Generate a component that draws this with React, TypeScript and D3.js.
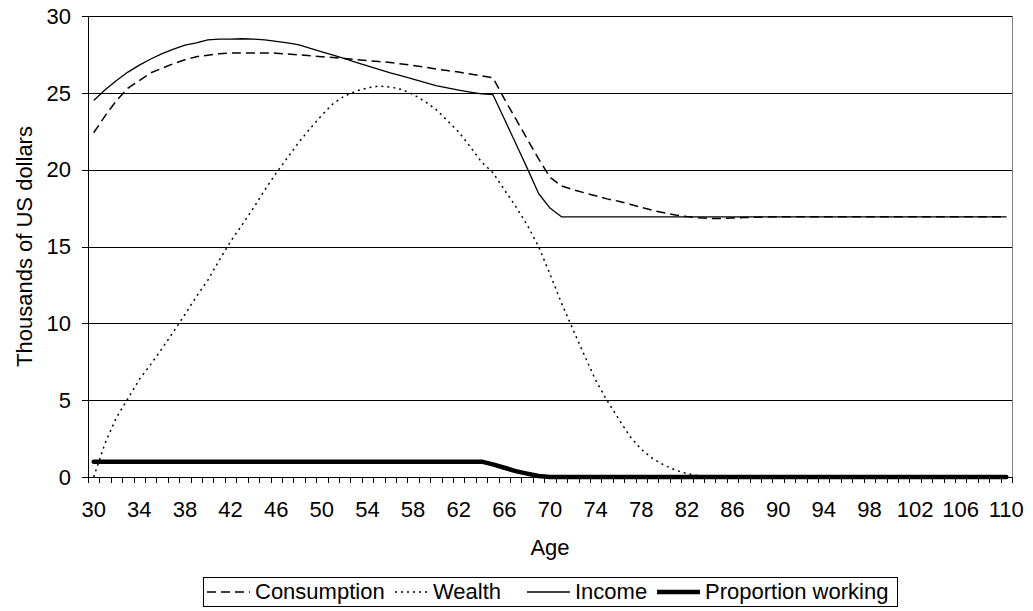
import React from "react";
import * as d3 from "d3";

const ages: number[] = d3.range(30, 111);
const xTickLabels: number[] = [30, 34, 38, 42, 46, 50, 54, 58, 62, 66, 70, 74, 78, 82, 86, 90, 94, 98, 102, 106, 110];
const yTicks: number[] = [0, 5, 10, 15, 20, 25, 30];

// ages 30..110
const consumption: number[] = [
  22.4, 23.5, 24.5, 25.3, 25.8, 26.3, 26.6, 26.9, 27.15, 27.35,
  27.45, 27.55, 27.6, 27.6, 27.6, 27.6, 27.58, 27.53, 27.47, 27.41,
  27.35, 27.3, 27.23, 27.16, 27.1, 27.04, 26.97, 26.88, 26.78, 26.67,
  26.55, 26.45, 26.35, 26.23, 26.1, 25.98, 24.6, 23.3, 22.0, 20.7,
  19.5, 18.95, 18.7, 18.5, 18.3, 18.1, 17.95, 17.75, 17.55, 17.35,
  17.2, 17.05, 16.95, 16.87, 16.83, 16.83, 16.85, 16.88, 16.9, 16.92,
  16.93, 16.93, 16.93, 16.93, 16.93, 16.93, 16.93, 16.93, 16.93, 16.93,
  16.93, 16.93, 16.93, 16.93, 16.93, 16.93, 16.93, 16.93, 16.93, 16.93,
  16.93,
];

const wealth: number[] = [
  0.0, 2.2, 3.88, 5.1, 6.35, 7.33, 8.37, 9.46, 10.58, 11.74,
  12.8, 14.1, 15.33, 16.4, 17.5, 18.68, 19.78, 20.8, 21.8, 22.7,
  23.55, 24.3, 24.8, 25.12, 25.32, 25.44, 25.38, 25.22, 24.9, 24.45,
  23.93, 23.2, 22.45, 21.5, 20.5, 19.8, 18.7, 17.6, 16.4, 15.0,
  13.2, 11.33, 9.62, 7.95, 6.3, 4.98, 3.8, 2.65, 1.8, 1.2,
  0.77, 0.45, 0.22, 0.08, 0.02, 0, 0, 0, 0, 0,
  0, 0, 0, 0, 0, 0, 0, 0, 0, 0,
  0, 0, 0, 0, 0, 0, 0, 0, 0, 0,
  0,
];

const income: number[] = [
  24.5, 25.2, 25.8, 26.35, 26.8, 27.2, 27.55, 27.85, 28.1, 28.25,
  28.45, 28.5, 28.5, 28.52, 28.5, 28.45, 28.35, 28.25, 28.12, 27.9,
  27.67, 27.45, 27.22, 26.98, 26.75, 26.52, 26.3, 26.1, 25.9, 25.68,
  25.47, 25.32, 25.18, 25.05, 24.93, 24.88, 23.3, 21.7, 20.1, 18.45,
  17.5, 16.93, 16.93, 16.93, 16.93, 16.93, 16.93, 16.93, 16.93, 16.93,
  16.93, 16.93, 16.93, 16.93, 16.93, 16.93, 16.93, 16.93, 16.93, 16.93,
  16.93, 16.93, 16.93, 16.93, 16.93, 16.93, 16.93, 16.93, 16.93, 16.93,
  16.93, 16.93, 16.93, 16.93, 16.93, 16.93, 16.93, 16.93, 16.93, 16.93,
  16.93,
];

const proportionWorking: number[] = [
  1, 1, 1, 1, 1, 1, 1, 1, 1, 1,
  1, 1, 1, 1, 1, 1, 1, 1, 1, 1,
  1, 1, 1, 1, 1, 1, 1, 1, 1, 1,
  1, 1, 1, 1, 1, 0.82, 0.6, 0.38, 0.22, 0.07,
  0, 0, 0, 0, 0, 0, 0, 0, 0, 0,
  0, 0, 0, 0, 0, 0, 0, 0, 0, 0,
  0, 0, 0, 0, 0, 0, 0, 0, 0, 0,
  0, 0, 0, 0, 0, 0, 0, 0, 0, 0,
  0,
];

const seriesNames: string[] = ["Consumption", "Wealth", "Income", "Proportion working"];

const FONT = "'Liberation Sans', Arial, sans-serif";

export default function App() {
  const W = 1033;
  const H = 611;
  const left = 88;
  const right = 1012;
  const top = 16;
  const bottom = 477;

  const x = d3.scaleBand<number>().domain(ages).range([left, right]).padding(0);
  const bw = x.bandwidth();
  const cx = (a: number) => (x(a) as number) + bw / 2;
  const y = d3.scaleLinear().domain([0, 30]).range([bottom, top]);

  const mkLine = (vals: number[]) =>
    d3
      .line<number>()
      .x((_, i) => cx(ages[i]))
      .y((v) => y(v))(vals) as string;

  const series = [
    { name: seriesNames[0], data: consumption, dash: "9,5", width: 1.5 },
    { name: seriesNames[1], data: wealth, dash: "2,4", width: 1.5 },
    { name: seriesNames[2], data: income, dash: "", width: 1.3 },
    { name: seriesNames[3], data: proportionWorking, dash: "", width: 4.5 },
  ];

  const boundaries = d3.range(0, ages.length + 1).map((i) => left + i * bw);

  const legendTextX = [255, 433, 575, 705];
  const legendY = 592;

  return (
    <svg width={W} height={H} style={{ position: "absolute", left: 0, top: 0, background: "#fff" }}>
      <rect x={0} y={0} width={W} height={H} fill="#fff" />
      {/* gridlines */}
      {yTicks.filter((t) => t > 0).map((t) => (
        <line key={"g" + t} x1={left} x2={right} y1={Math.round(y(t)) + 0.5} y2={Math.round(y(t)) + 0.5} stroke="#000" strokeWidth={1} />
      ))}
      {/* right border */}
      <line x1={right + 0.5} x2={right + 0.5} y1={top} y2={bottom} stroke="#808080" strokeWidth={1} />
      {/* series */}
      {series.map((s) => (
        <path
          key={s.name}
          d={mkLine(s.data)}
          fill="none"
          stroke="#000"
          strokeWidth={s.width}
          strokeDasharray={s.dash || undefined}
          strokeLinecap={s.width > 3 ? "round" : "butt"}
          strokeLinejoin="round"
        />
      ))}
      {/* axes */}
      <line x1={left + 0.5} x2={left + 0.5} y1={top} y2={bottom + 0.5} stroke="#000" strokeWidth={1} />
      <line x1={left} x2={right + 1} y1={bottom + 0.5} y2={bottom + 0.5} stroke="#000" strokeWidth={1} />
      {yTicks.map((t) => (
        <g key={"yt" + t}>
          <line x1={left - 6} x2={left} y1={Math.round(y(t)) + 0.5} y2={Math.round(y(t)) + 0.5} stroke="#000" strokeWidth={1} />
          <text x={71} y={y(t)} dy="0.35em" textAnchor="end" fontFamily={FONT} fontSize={22} fill="#000">
            {t}
          </text>
        </g>
      ))}
      {boundaries.map((b, i) => (
        <line key={"xt" + i} x1={Math.round(b) + 0.5} x2={Math.round(b) + 0.5} y1={bottom} y2={bottom + 6} stroke="#000" strokeWidth={1} />
      ))}
      {xTickLabels.map((a) => (
        <text key={"xl" + a} x={cx(a)} y={517} textAnchor="middle" fontFamily={FONT} fontSize={22} fill="#000">
          {a}
        </text>
      ))}
      <text x={(left + right) / 2} y={555} textAnchor="middle" fontFamily={FONT} fontSize={22} fill="#000">
        Age
      </text>
      <text
        transform={`translate(32, ${(top + bottom) / 2}) rotate(-90)`}
        textAnchor="middle"
        fontFamily={FONT}
        fontSize={22}
        fill="#000"
      >
        Thousands of US dollars
      </text>
      {/* legend */}
      <rect x={203.5} y={577.5} width={694} height={29} fill="#fff" stroke="#000" strokeWidth={1} />
      {series.map((s, i) => {
        const tx = legendTextX[i];
        const x1 = i === 1 ? tx - 38 : tx - 48;
        return (
          <g key={"lg" + i}>
            <line
              x1={x1}
              x2={tx - 5}
              y1={legendY}
              y2={legendY}
              stroke="#000"
              strokeWidth={s.width}
              strokeDasharray={s.dash || undefined}
            />
            <text x={tx} y={599} fontFamily={FONT} fontSize={22} fill="#000">
              {s.name}
            </text>
          </g>
        );
      })}
    </svg>
  );
}
